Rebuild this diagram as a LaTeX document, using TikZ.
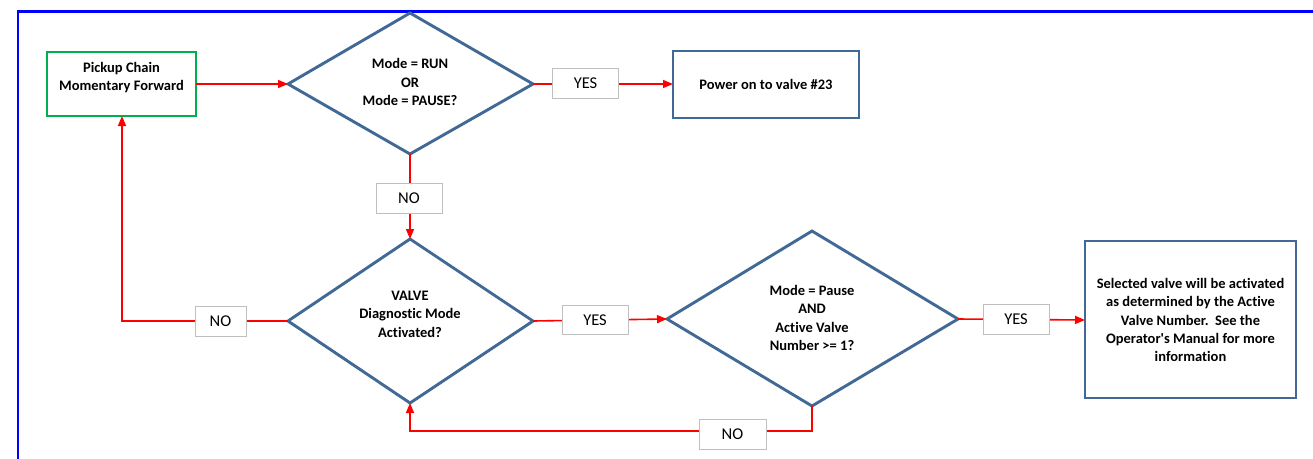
\documentclass[tikz,border=0pt]{standalone}
\usepackage{fontspec}
\setmainfont[Ligatures=NoCommon]{Carlito}
\usetikzlibrary{arrows.meta,shapes.geometric}
\definecolor{steel}{RGB}{65,105,150}
\definecolor{grn}{RGB}{0,176,80}
\definecolor{lblgray}{RGB}{191,191,191}
\begin{document}
\begin{tikzpicture}[x=1pt,y=-1pt,
  proc/.style={draw=steel,line width=2.9pt,fill=white,inner sep=0pt},
  dec/.style={draw=steel,line width=2.9pt,fill=white},
  lbl/.style={draw=lblgray,line width=1pt,fill=white,inner sep=0pt,font=\fontsize{16.5}{18}\selectfont},
  txt/.style={align=center,font=\bfseries\fontsize{14.5}{18.5}\selectfont},
  flow/.style={red,line width=1.6pt},
  arr/.style={flow,-{Triangle[length=10pt,width=8pt]}}]
\useasboundingbox (0,0) rectangle (1313,458);
\fill[white] (0,0) rectangle (1313,458);
\draw[blue,line width=2.6pt] (18,470) -- (18,11.5) -- (1330,11.5);
% nodes
\draw[grn,line width=2.9pt,fill=white] (47,52) rectangle (196,116);
\coordinate (gb) at (122,116);
\coordinate (gr) at (196,84);
\node[txt] (g) at (121.5,77.5) {Pickup Chain\\Momentary Forward};
\draw[proc] (673,51) rectangle (859,118);
\coordinate (pl) at (673,84);
\node[txt] (p) at (766,84.5) {Power on to valve \#23};
\draw[proc] (1085,241) rectangle (1296,398);
\coordinate (sl) at (1085,320);
\node[txt,font=\bfseries\fontsize{14.5}{18.4}\selectfont] (s) at (1190.5,320) {Selected valve will be activated\\as determined by the Active\\Valve Number.\ \ See the\\Operator\textquotesingle s Manual for more\\information};
% diamonds
\draw[dec] (410,13) -- (533,84) -- (410,154) -- (288,84) -- cycle;
\coordinate (d1t) at (410,13); \coordinate (d1l) at (288,84);
\coordinate (d1r) at (533,84); \coordinate (d1b) at (410,154);
\node[txt] (d1) at (410,82) {Mode = RUN\\OR\\Mode = PAUSE?};
\draw[dec] (410,239) -- (533,321) -- (410,403) -- (288,321) -- cycle;
\coordinate (d2t) at (410,239); \coordinate (d2l) at (288,321);
\coordinate (d2r) at (533,321); \coordinate (d2b) at (410,403);
\node[txt] (d2) at (410,314) {VALVE\\Diagnostic Mode\\Activated?};
\draw[dec] (812,231) -- (958,319) -- (812,406) -- (667,319) -- cycle;
\coordinate (d3l) at (667,319); \coordinate (d3r) at (958,319);
\coordinate (d3b) at (812,406);
\node[txt] (d3) at (812,318) {Mode = Pause\\AND\\Active Valve\\Number >= 1?};
% connectors
\draw[arr] (gr) -- (d1l);
\draw[arr] (d1r) -- (pl);
\draw[arr] (d1b) -- (d2t);
\draw[arr] (d2l) -- (122,321) -- (gb);
\draw[arr] (d2r) -- (d3l);
\draw[arr] (d3r) -- (sl);
\draw[arr] (d3b) -- (812,431) -- (410,431) -- (d2b);
% labels
\node[lbl,minimum width=66pt,minimum height=30pt] (y1) at (585.5,83.5) {YES};
\node[lbl,minimum width=66pt,minimum height=30pt] (n1) at (409,198) {NO};
\node[lbl,minimum width=51pt,minimum height=30pt] (n2) at (220.5,321) {NO};
\node[lbl,minimum width=66pt,minimum height=29pt] (y2) at (595,320) {YES};
\node[lbl,minimum width=66pt,minimum height=30pt] (y3) at (1016,319) {YES};
\node[lbl,minimum width=67pt,minimum height=30pt] (n3) at (732.5,434) {NO};
\end{tikzpicture}
\end{document}
